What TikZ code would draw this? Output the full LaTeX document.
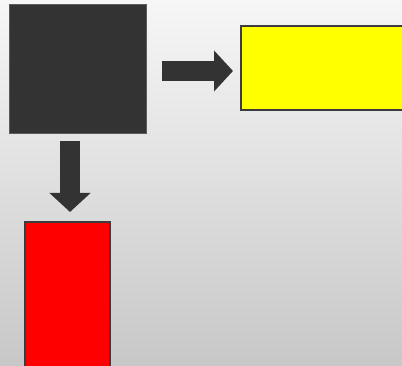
\documentclass[tikz,border=0pt]{standalone}
\usetikzlibrary{arrows.meta}
\definecolor{boxdark}{RGB}{51,51,51}
\definecolor{edgegray}{RGB}{60,60,60}
\definecolor{bgtop}{RGB}{246,246,246}
\definecolor{bgbottom}{RGB}{200,200,200}
\definecolor{pureyellow}{RGB}{255,255,0}
\definecolor{purered}{RGB}{255,0,0}
\tikzset{
  block/.style={rectangle, inner sep=0pt, outer sep=0pt},
  darkblock/.style={block, fill=boxdark, draw=boxdark!80!white, line width=0.6pt},
  colorblock/.style={block, draw=edgegray, line width=2pt},
  fatarrow/.style={draw=boxdark, line width=20pt,
    -{Triangle[length=19pt,width=40pt]}}
}
\begin{document}
\begin{tikzpicture}[x=1pt,y=-1pt]
  \useasboundingbox (0,0) rectangle (402,366);
  \clip (0,0) rectangle (402,366);
  % background gradient
  \shade[top color=bgtop, bottom color=bgbottom] (0,0) rectangle (402,366);

  % blocks
  \node[darkblock, minimum width=137pt, minimum height=129pt] (src) at (77.5,68.5) {};
  \node[colorblock, fill=pureyellow, minimum width=189pt, minimum height=84pt] (right) at (335.5,68) {};
  \node[colorblock, fill=purered, minimum width=85pt, minimum height=178pt] (down) at (67.5,311) {};

  % connectors
  \draw[fatarrow, shorten <=16pt, shorten >=8pt]
    ([yshift=-2.5pt]src.east) -- ([yshift=-2.5pt]src.east -| right.west);
  \draw[fatarrow, shorten <=8pt, shorten >=10pt]
    ([xshift=-7.5pt]src.south) -- ([xshift=-7.5pt]src.south |- down.north);
\end{tikzpicture}
\end{document}
